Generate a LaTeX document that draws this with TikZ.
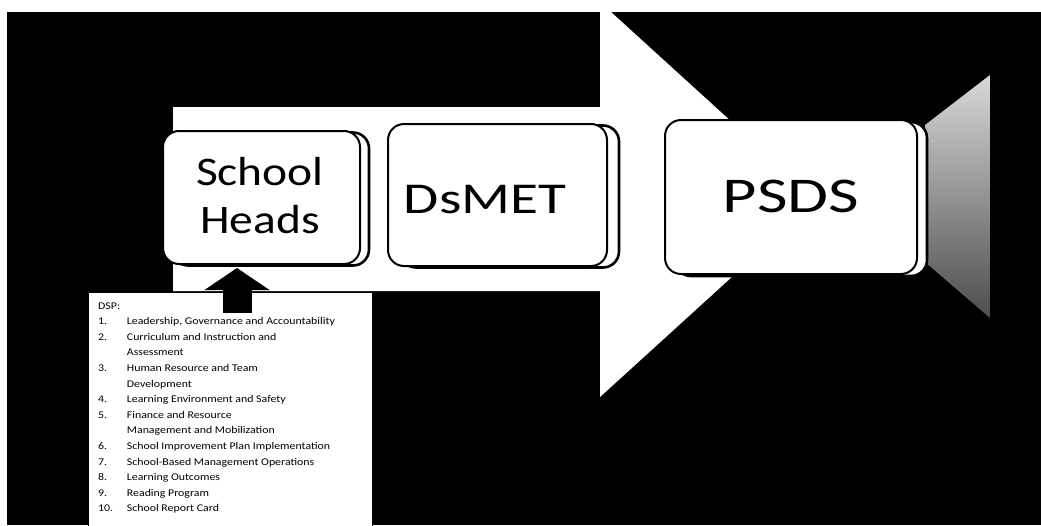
\documentclass[tikz,border=0pt]{standalone}
\usepackage{fontspec}
\setmainfont{Carlito}
\usetikzlibrary{arrows.meta}
\begin{document}
\begin{tikzpicture}[x=1pt,y=-1pt,
  pbox/.style={draw=black, line width=2pt, fill=white, rounded corners=16pt, inner sep=0pt},
  pshadow/.style={draw=black, line width=2.6pt, fill=white, rounded corners=16pt, inner sep=0pt},
  lbl/.style={inner sep=0pt, anchor=base, text=black},
  listline/.style={inner sep=0pt, anchor=north west, align=left},
  uparrow/.style={draw=black, line width=29pt, -{Triangle[length=22pt, width=64pt]}}
  ]
\useasboundingbox (0,0) rectangle (1041,525);
\fill[white] (0,0) rectangle (1041,525);
% black backdrop
\fill[black] (7,12) rectangle (1041,525);
% large white process arrow
\fill[white] (173,107) -- (600,107) -- (600,2) -- (817,199.5) -- (600,397) -- (600,291) -- (173,291) -- cycle;
% faded grey tip at right
\shade[top color=black!15, bottom color=black!70] (990,75) -- (925,125) -- (925,262) -- (990,318) -- cycle;

% list box
\node[draw=black, line width=0.6pt, fill=white, anchor=north west,
      minimum width=284pt, minimum height=240pt, inner sep=0pt] (listbox) at (88,292) {};
\node[listline, font=\fontsize{10.3}{15.6}\selectfont] (listtext) at (98,298) {%
\scalebox{1.15}[1]{\begin{tabular}{@{}p{25pt}@{}l@{}}
\multicolumn{2}{@{}l@{}}{DSP:}\\
1. & Leadership, Governance and Accountability\\
2. & Curriculum and Instruction and\\
   & Assessment\\
3. & Human Resource and Team\\
   & Development\\
4. & Learning Environment and Safety\\
5. & Finance and Resource\\
   & Management and Mobilization\\
6. & School Improvement Plan Implementation\\
7. & School-Based Management Operations\\
8. & Learning Outcomes\\
9. & Reading Program\\
10. & School Report Card
\end{tabular}}};

% process boxes (shadow outline first, then the box)
\node[pshadow, minimum width=197pt, minimum height=133pt] (shS) at (270.5,199) {};
\node[pbox, minimum width=197pt, minimum height=133pt] (sh) at (261.5,197.5) {};
\node[pshadow, minimum width=219pt, minimum height=142pt] (dmS) at (509.5,196.5) {};
\node[pbox, minimum width=219pt, minimum height=142pt] (dm) at (497.5,195) {};
\node[pshadow, minimum width=252pt, minimum height=154pt] (psS) at (801,199) {};
\node[pbox, minimum width=252pt, minimum height=154pt] (ps) at (791,197) {};

% labels
\node[lbl, font=\fontsize{40.6}{48}\selectfont] (shT) at (260,185)
  {\scalebox{1.17}[1]{\begin{tabular}[t]{@{}c@{}}School\\Heads\end{tabular}}};
\node[lbl, font=\fontsize{44}{52}\selectfont] (dmT) at (485,213) {\scalebox{1.3}[1]{DsMET}};
\node[lbl, font=\fontsize{50}{60}\selectfont] (psT) at (791,212) {\scalebox{1.33}[1]{PSDS}};

% upward block arrow from the list to School Heads
\coordinate (upbase) at (237,313);
\coordinate (uptip) at (237,268);
\draw[uparrow] (upbase) -- (uptip);
\end{tikzpicture}
\end{document}
